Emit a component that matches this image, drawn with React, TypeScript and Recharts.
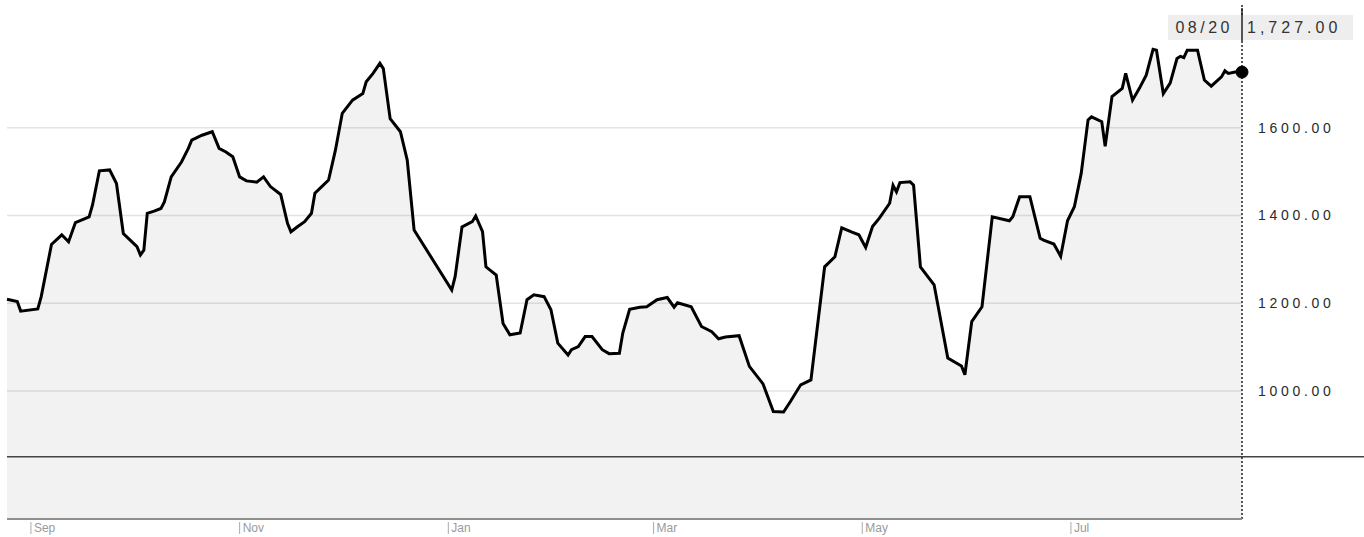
import React from "react";
import {
  Area,
  AreaChart,
  CartesianGrid,
  ReferenceDot,
  ReferenceLine,
  XAxis,
  YAxis,
} from "recharts";

const CHART_W = 1364;
const CHART_H = 537;

// closing prices
const dates = [
  "2019-08-25", "2019-08-28", "2019-08-29", "2019-09-03", "2019-09-04", "2019-09-07",
  "2019-09-10", "2019-09-12", "2019-09-14", "2019-09-18", "2019-09-19", "2019-09-21",
  "2019-09-24", "2019-09-26", "2019-09-28", "2019-09-30", "2019-10-02", "2019-10-03",
  "2019-10-04", "2019-10-05", "2019-10-07", "2019-10-09", "2019-10-10", "2019-10-12",
  "2019-10-15", "2019-10-17", "2019-10-18", "2019-10-21", "2019-10-24", "2019-10-26",
  "2019-10-28", "2019-10-30", "2019-11-01", "2019-11-03", "2019-11-06", "2019-11-08",
  "2019-11-10", "2019-11-13", "2019-11-15", "2019-11-16", "2019-11-18", "2019-11-20",
  "2019-11-22", "2019-11-23", "2019-11-25", "2019-11-27", "2019-11-29", "2019-12-01",
  "2019-12-04", "2019-12-07", "2019-12-08", "2019-12-10", "2019-12-12", "2019-12-13",
  "2019-12-15", "2019-12-18", "2019-12-20", "2019-12-22", "2020-01-02", "2020-01-03",
  "2020-01-05", "2020-01-08", "2020-01-09", "2020-01-11", "2020-01-12", "2020-01-15",
  "2020-01-17", "2020-01-19", "2020-01-22", "2020-01-24", "2020-01-26", "2020-01-29",
  "2020-01-31", "2020-02-02", "2020-02-05", "2020-02-06", "2020-02-08", "2020-02-10",
  "2020-02-12", "2020-02-15", "2020-02-17", "2020-02-20", "2020-02-21", "2020-02-23",
  "2020-02-26", "2020-02-28", "2020-03-02", "2020-03-05", "2020-03-07", "2020-03-08",
  "2020-03-12", "2020-03-15", "2020-03-18", "2020-03-20", "2020-03-22", "2020-03-26",
  "2020-03-29", "2020-04-02", "2020-04-05", "2020-04-08", "2020-04-10", "2020-04-13",
  "2020-04-16", "2020-04-20", "2020-04-23", "2020-04-25", "2020-04-28", "2020-04-30",
  "2020-05-02", "2020-05-04", "2020-05-06", "2020-05-09", "2020-05-10", "2020-05-11",
  "2020-05-12", "2020-05-15", "2020-05-16", "2020-05-18", "2020-05-22", "2020-05-26",
  "2020-05-30", "2020-05-31", "2020-06-02", "2020-06-05", "2020-06-08", "2020-06-13",
  "2020-06-14", "2020-06-16", "2020-06-19", "2020-06-22", "2020-06-23", "2020-06-26",
  "2020-06-28", "2020-06-30", "2020-07-02", "2020-07-04", "2020-07-06", "2020-07-07",
  "2020-07-10", "2020-07-11", "2020-07-13", "2020-07-16", "2020-07-17", "2020-07-19",
  "2020-07-21", "2020-07-23", "2020-07-25", "2020-07-26", "2020-07-28", "2020-07-30",
  "2020-08-01", "2020-08-02", "2020-08-03", "2020-08-04", "2020-08-07", "2020-08-09",
  "2020-08-11", "2020-08-14", "2020-08-15", "2020-08-16", "2020-08-18", "2020-08-20",
];

const prices = [
  1209, 1204, 1182, 1187, 1215, 1334,
  1356, 1340, 1384, 1397, 1424, 1502,
  1504, 1473, 1359, 1344, 1329, 1310,
  1321, 1405, 1410, 1416, 1431, 1488,
  1522, 1553, 1572, 1583, 1591, 1553,
  1545, 1534, 1488, 1479, 1476, 1488,
  1466, 1448, 1382, 1363, 1375, 1386,
  1405, 1451, 1466, 1481, 1549, 1633,
  1663, 1678, 1705, 1724, 1747, 1735,
  1621, 1591, 1526, 1367, 1230, 1261,
  1374, 1386, 1399, 1363, 1283, 1264,
  1154, 1128, 1132, 1208, 1219, 1215,
  1185, 1109, 1082, 1094, 1101, 1124,
  1124, 1094, 1085, 1086, 1132, 1186,
  1191, 1192, 1208, 1213, 1191, 1201,
  1192, 1147, 1135, 1119, 1123, 1126,
  1056, 1016, 953, 952, 976, 1014,
  1025, 1283, 1306, 1372, 1362, 1356,
  1327, 1375, 1394, 1428, 1469, 1454,
  1475, 1477, 1469, 1283, 1242, 1075,
  1057, 1037, 1158, 1192, 1397, 1388,
  1397, 1443, 1443, 1348, 1344, 1335,
  1307, 1388, 1420, 1496, 1618, 1625,
  1614, 1558, 1671, 1690, 1724, 1663,
  1690, 1720, 1779, 1777, 1678, 1702,
  1758, 1763, 1760, 1777, 1777, 1709,
  1695, 1716, 1730, 1724, 1727, 1727,
];

const monthTicks = ["2019-09-01", "2019-11-01", "2020-01-01", "2020-03-01", "2020-05-01", "2020-07-01"];
const monthNames = ["Jan", "Feb", "Mar", "Apr", "May", "Jun", "Jul", "Aug", "Sep", "Oct", "Nov", "Dec"];
const priceTicks = [1000, 1200, 1400, 1600];
const baseLevel = 850;
const yDomain = [708, 1880];

const toTime = (s: string) => Date.parse(s + "T00:00:00Z");

const data = dates.map((d, i) => ({ t: toTime(d), price: prices[i] }));
const last = data[data.length - 1];
const lastLabelDate = dates[dates.length - 1].slice(5).replace("-", "/");
const lastLabelPrice = last.price.toLocaleString("en-US", {
  minimumFractionDigits: 2,
  maximumFractionDigits: 2,
});

const FONT = '"Liberation Sans", Arial, sans-serif';

// grid only at the price ticks, mapped through the y domain
const gridRows = ({ offset }: any) =>
  priceTicks.map(
    (v) => offset.top + ((yDomain[1] - v) / (yDomain[1] - yDomain[0])) * offset.height
  );

function MonthTick({ x, y, payload }: any) {
  const m = new Date(payload.value).getUTCMonth();
  return (
    <g>
      <line x1={x} x2={x} y1={y + 3} y2={y + 15} stroke="#aaa" strokeWidth={1} />
      <text x={x + 3} y={y + 13} fontSize={12} fill="#9a9a9a" fontFamily={FONT}>
        {monthNames[m]}
      </text>
    </g>
  );
}

function LastLabel({ viewBox }: any) {
  const x = viewBox.x;
  return (
    <g>
      <rect x={x - 74} y={15} width={185} height={25} fill="#eeeeee" />
      <line x1={x} x2={x} y1={8} y2={41} stroke="#222" strokeWidth={1.5} />
      <text
        x={x - 9}
        y={33}
        textAnchor="end"
        fontSize={16}
        letterSpacing={3.5}
        fill="#333"
        fontFamily={FONT}
      >
        {lastLabelDate}
      </text>
      <text x={x + 5} y={33} fontSize={16} letterSpacing={4} fill="#333" fontFamily={FONT}>
        {lastLabelPrice}
      </text>
    </g>
  );
}

// horizontal base line that runs on past the plot to the page edge
function BaseLine(p: any) {
  const left = Math.min(p.x1, p.x2);
  return <line x1={left} y1={p.y1} x2={CHART_W} y2={p.y1} stroke="#444" strokeWidth={1.5} />;
}

export default function App() {
  return (
    <div style={{ position: "absolute", left: 0, top: 0, background: "#fff" }}>
      <AreaChart
        width={CHART_W}
        height={CHART_H}
        data={data}
        margin={{ top: 5, right: 0, left: 7, bottom: 0 }}
      >
        <CartesianGrid
          vertical={false}
          stroke="#e4e4e4"
          strokeWidth={1.5}
          horizontalCoordinatesGenerator={gridRows}
        />
        <XAxis
          dataKey="t"
          type="number"
          scale="linear"
          domain={["dataMin", "dataMax"]}
          ticks={monthTicks.map(toTime)}
          interval={0}
          tick={<MonthTick />}
          tickLine={false}
          tickSize={0}
          tickMargin={0}
          height={18}
          axisLine={{ stroke: "#8f8f8f", strokeWidth: 2 }}
        />
        <YAxis
          orientation="right"
          type="number"
          domain={yDomain}
          ticks={priceTicks}
          width={122}
          axisLine={false}
          tickLine={false}
          tickSize={0}
          tickMargin={16}
          tickFormatter={(v: number) => v.toFixed(2)}
          tick={{ fontSize: 14, fill: "#2a2a2a", fontFamily: FONT, letterSpacing: 3.7 }}
        />
        <Area
          type="linear"
          dataKey="price"
          stroke="#000"
          strokeWidth={3}
          fill="#000"
          fillOpacity={0.05}
          isAnimationActive={false}
          dot={false}
          activeDot={false}
        />
        <ReferenceLine y={baseLevel} shape={BaseLine} />
        <ReferenceLine
          x={last.t}
          stroke="#222"
          strokeWidth={1.5}
          strokeDasharray="2 2"
          label={<LastLabel />}
        />
        <ReferenceDot x={last.t} y={last.price} r={6} fill="#000" stroke="#000" />
      </AreaChart>
    </div>
  );
}
